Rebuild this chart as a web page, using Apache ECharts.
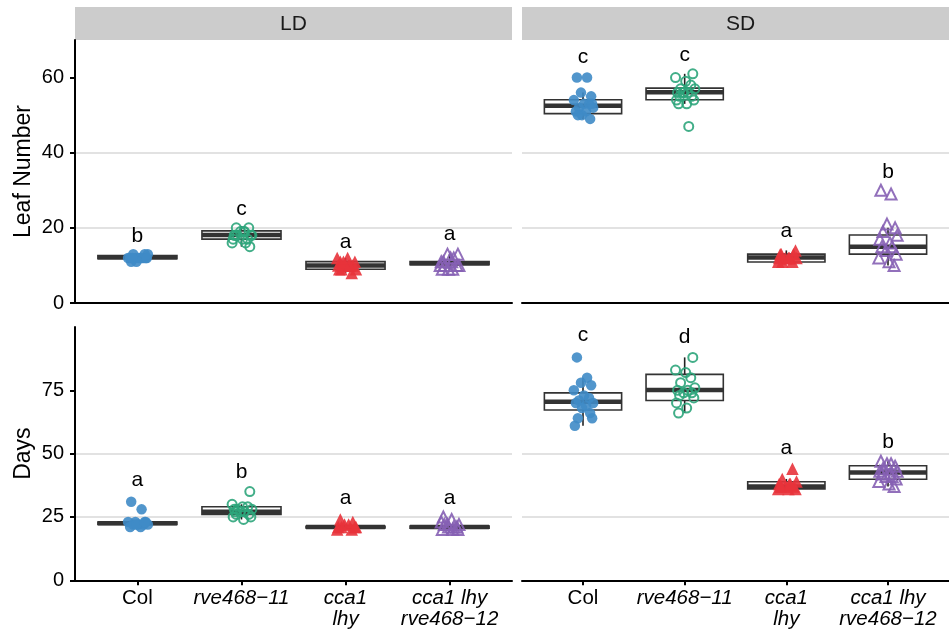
<!DOCTYPE html>
<html>
<head>
<meta charset="utf-8">
<script src="https://cdn.jsdelivr.net/npm/echarts@6/dist/echarts.min.js"></script>
<style>html,body{margin:0;padding:0;background:#fff}#main{width:949px;height:629px}</style>
</head>
<body>
<div id="main"></div>
<script>
// facettes : LD / SD en colonnes, Leaf Number / Days en lignes
var chart = echarts.init(document.getElementById('main'));
var FONT = 'Liberation Sans, Arial, Helvetica, sans-serif';

var genotypes = ['Col', 'rve468−11', 'cca1\nlhy', 'cca1 lhy\nrve468−12'];
var panels = ['LD', 'SD'];
var colors = ['#3f8bc6', '#2ea57b', '#e8333b', '#8660b4'];

// points (one list per genotype)
var leafLD = [
  [11, 12, 12, 12, 12, 12, 12, 13, 13, 12, 12, 11, 13, 12, 12],
  [15, 16, 17, 17, 18, 18, 18, 19, 19, 20, 20, 18, 17, 19, 18, 16],
  [8, 9, 9, 10, 10, 10, 10, 11, 11, 12, 12, 9, 10, 11],
  [9, 9, 9, 10, 10, 10, 11, 11, 11, 12, 13, 13, 10, 12]
];
var leafSD = [
  [60, 60, 56, 55, 54, 53, 53, 52, 52, 51, 51, 50, 49, 50, 53],
  [61, 60, 59, 58, 57, 57, 56, 56, 56, 55, 55, 54, 54, 53, 53, 47, 56],
  [11, 11, 12, 12, 12, 12, 13, 13, 14, 11, 12, 13],
  [30, 29, 21, 20, 19, 18, 17, 16, 15, 15, 14, 13, 12, 11, 10]
];
var daysLD = [
  [31, 28, 23, 23, 23, 22, 22, 22, 22, 21, 21, 22, 23],
  [35, 30, 29, 29, 28, 28, 28, 27, 27, 26, 26, 25, 25, 24, 27],
  [20, 21, 21, 21, 22, 22, 23, 24, 21, 20],
  [20, 20, 21, 21, 22, 22, 23, 24, 25, 21, 22, 20]
];
var daysSD = [
  [88, 80, 78, 77, 75, 73, 72, 71, 70, 70, 69, 68, 66, 64, 64, 61],
  [88, 83, 82, 80, 78, 76, 75, 75, 74, 74, 73, 72, 70, 68, 66],
  [44, 40, 39, 38, 38, 37, 37, 37, 36, 36, 36, 37, 38],
  [47, 46, 46, 45, 44, 43, 43, 42, 42, 41, 41, 40, 39, 38, 37]
];

// box stats: [min, q1, median, q3, max]
var leafLDBox = [[11, 11.8, 12.2, 12.6, 13], [15, 17, 18.1, 19.2, 20.5], [8, 9, 10, 11, 12], [9, 10.2, 10.6, 11, 13]];
var leafSDBox = [[49, 50.4, 52.5, 54.1, 56], [53, 54.1, 56.1, 57.2, 61], [10.5, 10.9, 12.1, 13, 14], [10, 13, 15, 18.1, 20]];
var daysLDBox = [[21, 22, 22.5, 23, 23], [24, 26, 27, 29, 30], [20, 20.7, 21, 21.3, 22], [20, 20.6, 21, 21.4, 22]];
var daysSDBox = [[61, 67.2, 70.5, 74, 80], [66, 71, 75.1, 81.3, 88], [36, 36.1, 37, 38.9, 40], [37, 39.9, 42.5, 45.2, 47]];

// letters de significativite et leur hauteur
var leafLDLetters = ['b', 'c', 'a', 'a'];
var leafSDLetters = ['c', 'c', 'a', 'b'];
var daysLDLetters = ['a', 'b', 'a', 'a'];
var daysSDLetters = ['c', 'd', 'a', 'b'];
var leafLDLetterY = [17.7, 25.0, 16.2, 18.2];
var leafSDLetterY = [65.3, 66.0, 19.2, 34.8];
var daysLDLetterY = [39.4, 42.5, 32.3, 32.3];
var daysSDLetterY = [96.6, 96.0, 52.3, 54.5];

// horizontal jitter (category units)
var jitter = [-0.06, 0.04, -0.02, 0.08, -0.09, 0.01, 0.06, -0.04, 0.1, -0.07, 0.03, -0.01, 0.07, -0.05, 0.09, -0.08, 0.02];

var yTicksLeaf = [0, 20, 40, 60];
var yTicksDays = [0, 25, 50, 75];

var facets = [
  {pts: leafLD, box: leafLDBox, let: leafLDLetters, ly: leafLDLetterY},
  {pts: leafSD, box: leafSDBox, let: leafSDLetters, ly: leafSDLetterY},
  {pts: daysLD, box: daysLDBox, let: daysLDLetters, ly: daysLDLetterY},
  {pts: daysSD, box: daysSDBox, let: daysSDLetters, ly: daysSDLetterY}
];

var BOX_W = 0.76;
var grids = [
  {left: 75, top: 40, width: 437, height: 263},
  {left: 522, top: 40, width: 437, height: 263},
  {left: 75, top: 327, width: 437, height: 254},
  {left: 522, top: 327, width: 437, height: 254}
];

var xAxes = [], yAxes = [], series = [];
var italicLabel = {fontFamily: FONT, fontSize: 20.5, lineHeight: 20.5, color: '#000', fontStyle: 'italic'};
var plainLabel = {fontFamily: FONT, fontSize: 20.5, lineHeight: 20.5, color: '#000'};

function renderBox(params, api) {
  var x = api.value(0);
  var lo = api.coord([x - BOX_W / 2, api.value(2)]);
  var hi = api.coord([x + BOX_W / 2, api.value(4)]);
  var med = api.coord([x, api.value(3)]);
  var wMin = api.coord([x, api.value(1)]);
  var wMax = api.coord([x, api.value(5)]);
  return {
    type: 'group',
    children: [
      {type: 'line', shape: {x1: wMax[0], y1: wMax[1], x2: wMax[0], y2: hi[1]}, style: {stroke: '#222', lineWidth: 1.6}},
      {type: 'line', shape: {x1: wMin[0], y1: lo[1], x2: wMin[0], y2: wMin[1]}, style: {stroke: '#222', lineWidth: 1.6}},
      {type: 'rect', shape: {x: lo[0], y: hi[1], width: hi[0] - lo[0], height: lo[1] - hi[1]}, style: {fill: '#fff', stroke: '#333', lineWidth: 1.6}},
      {type: 'line', shape: {x1: lo[0], y1: med[1], x2: hi[0], y2: med[1]}, style: {stroke: '#333', lineWidth: 4.5}}
    ]
  };
}

for (var i = 0; i < 4; i++) {
  var bottom = i >= 2, left = i % 2 === 0;
  xAxes.push({
    type: 'value', gridIndex: i, min: 0.4, max: 4.6,
    axisLine: {show: true, onZero: false, lineStyle: {color: '#000', width: 2}},
    axisTick: {show: bottom, customValues: [1, 2, 3, 4], length: 5, lineStyle: {color: '#000', width: 2}},
    axisLabel: {
      show: bottom, customValues: [1, 2, 3, 4], margin: 8,
      formatter: function (v) {
        var name = genotypes[Math.round(v) - 1];
        var tag = name === 'Col' ? 'n' : 'i';
        return name.split('\n').map(function (s) { return '{' + tag + '|' + s + '}'; }).join('\n');
      },
      rich: {i: italicLabel, n: plainLabel}
    },
    splitLine: {show: false}
  });
  var ticks = bottom ? yTicksDays : yTicksLeaf;
  yAxes.push({
    type: 'value', gridIndex: i, min: 0, max: bottom ? 100 : 70,
    axisLine: {show: left, lineStyle: {color: '#000', width: 2}},
    axisTick: {show: left, customValues: ticks, length: 5, lineStyle: {color: '#000', width: 2}},
    axisLabel: {show: left, customValues: ticks, margin: 11, fontFamily: FONT, fontSize: 20, color: '#000'},
    splitLine: {show: true, showMaxLine: false, showMinLine: false, lineStyle: {color: '#d9d9d9', width: 1.5}},
    name: i === 0 ? 'Leaf Number' : (i === 2 ? 'Days' : ''),
    nameLocation: 'middle', nameGap: 40,
    nameTextStyle: {fontFamily: FONT, fontSize: 23, color: '#000'}
  });

  var f = facets[i];
  series.push({
    type: 'custom', xAxisIndex: i, yAxisIndex: i, z: 2,
    renderItem: renderBox,
    encode: {x: 0, y: [1, 2, 3, 4, 5]},
    data: f.box.map(function (b, g) { return [g + 1].concat(b); })
  });
  f.pts.forEach(function (vals, g) {
    var open = g === 1 || g === 3;
    series.push({
      type: 'scatter', xAxisIndex: i, yAxisIndex: i, z: 3,
      symbol: g < 2 ? 'circle' : 'triangle',
      symbolSize: g < 2 ? (open ? 9 : 10.5) : (open ? 11 : 12.5),
      itemStyle: open
        ? {color: 'rgba(0,0,0,0)', borderColor: colors[g], borderWidth: 2, opacity: 0.9}
        : {color: colors[g], opacity: 0.9},
      data: vals.map(function (v, k) { return [g + 1 + jitter[(k + g * 3) % jitter.length], v]; })
    });
  });
  series.push({
    type: 'scatter', xAxisIndex: i, yAxisIndex: i, z: 4, symbolSize: 1,
    itemStyle: {color: 'rgba(0,0,0,0)'},
    label: {
      show: true, position: 'inside', fontFamily: FONT, fontSize: 21,
      color: '#000', textBorderWidth: 0, opacity: 1,
      formatter: (function (lets) { return function (p) { return lets[p.dataIndex]; }; })(f.let)
    },
    data: f.ly.map(function (y, g) { return [g + 1, y]; })
  });
}

var option = {
  backgroundColor: '#fff',
  animation: false,
  grid: grids,
  xAxis: xAxes,
  yAxis: yAxes,
  series: series,
  graphic: [
    {type: 'rect', left: 75, top: 7, shape: {width: 437, height: 33}, style: {fill: '#cccccc'}},
    {type: 'rect', left: 522, top: 7, shape: {width: 437, height: 33}, style: {fill: '#cccccc'}},
    {type: 'text', x: 293.5, y: 24, style: {text: panels[0], fontFamily: FONT, fontSize: 21, fill: '#1a1a1a', align: 'center', verticalAlign: 'middle'}},
    {type: 'text', x: 740.5, y: 24, style: {text: panels[1], fontFamily: FONT, fontSize: 21, fill: '#1a1a1a', align: 'center', verticalAlign: 'middle'}}
  ]
};
chart.setOption(option);
</script>
</body>
</html>
